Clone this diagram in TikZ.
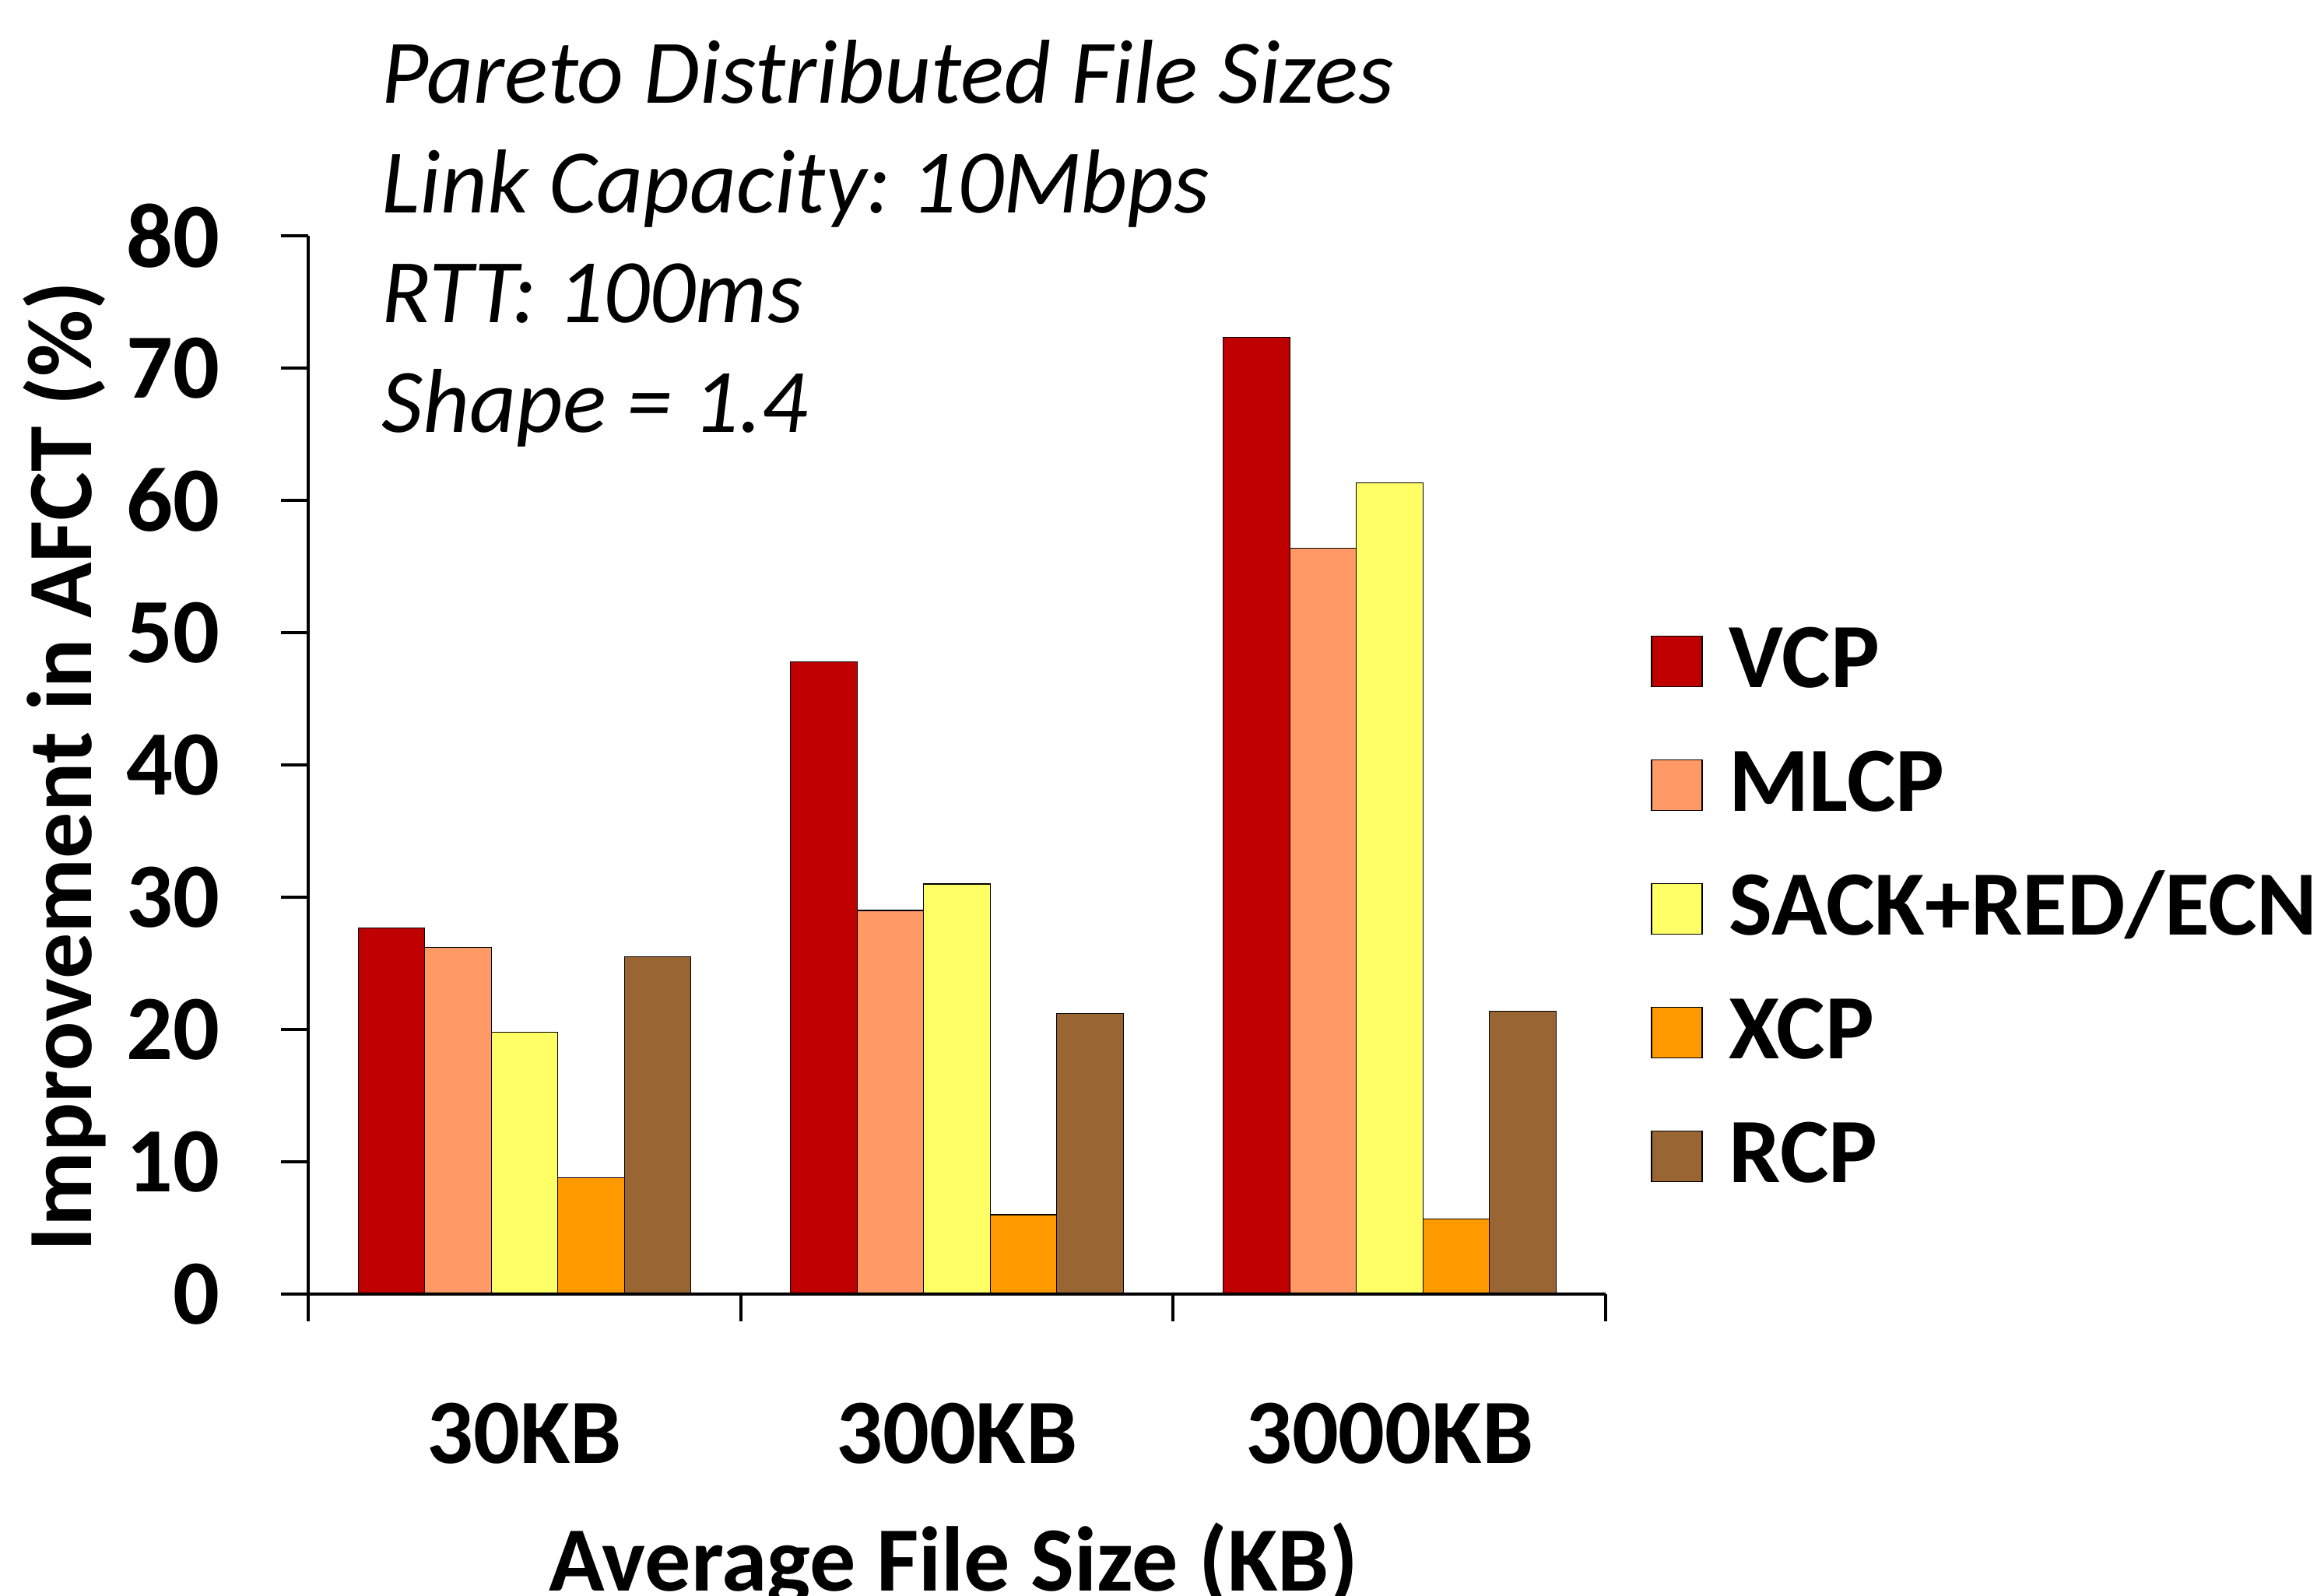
\documentclass[tikz,border=0pt]{standalone}
\usepackage{fontspec}
\setmainfont{Carlito}
\frenchspacing

\definecolor{vcpcolor}{HTML}{C00000}
\definecolor{mlcpcolor}{HTML}{FF9966}
\definecolor{sackcolor}{HTML}{FFFF66}
\definecolor{xcpcolor}{HTML}{FF9900}
\definecolor{rcpcolor}{HTML}{996633}

\begin{document}
\begin{tikzpicture}[
  bar/.style={draw=black, line width=0.3pt},
  axisline/.style={line width=1.1pt},
  boldlabel/.style={font=\fontsize{33.6}{40}\selectfont\bfseries, inner sep=0pt},
  infotext/.style={font=\fontsize{33.2}{40}\selectfont\itshape, inner sep=0pt, anchor=base west},
  legendbox/.style={draw=black, line width=0.5pt, minimum size=0.65cm, inner sep=0pt},
  legendtext/.style={boldlabel, anchor=base west}
]
% Page size of the reference (1 px = 0.01 cm)
\clip (0,0) rectangle (29.77,20.50);
\fill[white] (0,0) rectangle (29.77,20.50);

% Info text in the upper left corner
\node[infotext] (infopareto) at (4.90, 19.17) {Pareto Distributed File Sizes};
\node[infotext] (infolink) at (4.90, 17.76) {Link Capacity: 10Mbps};
\node[infotext] (infortt) at (4.90, 16.35) {RTT: 100ms};
\node[infotext] (infoshape) at (4.90, 14.94) {Shape = 1.4};

% Bars (x in cm from the y axis, y in percent)
\begin{scope}[shift={(3.96,3.87)}, y=0.17cm]
\draw[bar, fill=vcpcolor] (0.641, 0) rectangle +(0.855, 27.7);
\draw[bar, fill=mlcpcolor] (1.496, 0) rectangle +(0.855, 26.2);
\draw[bar, fill=sackcolor] (2.351, 0) rectangle +(0.855, 19.8);
\draw[bar, fill=xcpcolor] (3.206, 0) rectangle +(0.855, 8.8);
\draw[bar, fill=rcpcolor] (4.061, 0) rectangle +(0.855, 25.5);
\draw[bar, fill=vcpcolor] (6.198, 0) rectangle +(0.855, 47.8);
\draw[bar, fill=mlcpcolor] (7.053, 0) rectangle +(0.855, 29.0);
\draw[bar, fill=sackcolor] (7.908, 0) rectangle +(0.855, 31.0);
\draw[bar, fill=xcpcolor] (8.763, 0) rectangle +(0.855, 6.0);
\draw[bar, fill=rcpcolor] (9.618, 0) rectangle +(0.855, 21.2);
\draw[bar, fill=vcpcolor] (11.755, 0) rectangle +(0.855, 72.3);
\draw[bar, fill=mlcpcolor] (12.610, 0) rectangle +(0.855, 56.4);
\draw[bar, fill=sackcolor] (13.465, 0) rectangle +(0.855, 61.3);
\draw[bar, fill=xcpcolor] (14.320, 0) rectangle +(0.855, 5.7);
\draw[bar, fill=rcpcolor] (15.175, 0) rectangle +(0.855, 21.4);
\end{scope}

% Axes and ticks
\draw[axisline] (3.96, 3.87) -- (3.96, 17.47);
\draw[axisline] (3.61, 3.87) -- (20.63, 3.87);
\draw[axisline] (3.61, 5.57) -- (3.96, 5.57);
\draw[axisline] (3.61, 7.27) -- (3.96, 7.27);
\draw[axisline] (3.61, 8.97) -- (3.96, 8.97);
\draw[axisline] (3.61, 10.67) -- (3.96, 10.67);
\draw[axisline] (3.61, 12.37) -- (3.96, 12.37);
\draw[axisline] (3.61, 14.07) -- (3.96, 14.07);
\draw[axisline] (3.61, 15.77) -- (3.96, 15.77);
\draw[axisline] (3.61, 17.47) -- (3.96, 17.47);
\draw[axisline] (3.96, 3.87) -- (3.96, 3.52);
\draw[axisline] (9.517, 3.87) -- (9.517, 3.52);
\draw[axisline] (15.073, 3.87) -- (15.073, 3.52);
\draw[axisline] (20.63, 3.87) -- (20.63, 3.52);

% Tick labels
\node[boldlabel, anchor=east] (ytick0) at (2.83, 3.87) {0};
\node[boldlabel, anchor=east] (ytick10) at (2.83, 5.57) {10};
\node[boldlabel, anchor=east] (ytick20) at (2.83, 7.27) {20};
\node[boldlabel, anchor=east] (ytick30) at (2.83, 8.97) {30};
\node[boldlabel, anchor=east] (ytick40) at (2.83, 10.67) {40};
\node[boldlabel, anchor=east] (ytick50) at (2.83, 12.37) {50};
\node[boldlabel, anchor=east] (ytick60) at (2.83, 14.07) {60};
\node[boldlabel, anchor=east] (ytick70) at (2.83, 15.77) {70};
\node[boldlabel, anchor=east] (ytick80) at (2.83, 17.47) {80};
\node[boldlabel, anchor=base] (xtick30) at (6.738, 1.69) {30KB};
\node[boldlabel, anchor=base] (xtick300) at (12.295, 1.69) {300KB};
\node[boldlabel, anchor=base] (xtick3000) at (17.852, 1.69) {3000KB};

% Axis titles
\node[boldlabel, rotate=90, anchor=base] (ytitle) at (1.17, 10.65) {Improvement in AFCT (\%)};
\node[boldlabel, anchor=base] (xtitle) at (12.25, 0.06) {Average File Size (KB)};

% Legend
\node[legendbox, fill=vcpcolor] (legvcp) at (21.545, 12.00) {};
\node[legendtext] (legvcptext) at (22.21, 11.66) {VCP};
\node[legendbox, fill=mlcpcolor] (legmlcp) at (21.545, 10.41) {};
\node[legendtext] (legmlcptext) at (22.21, 10.07) {MLCP};
\node[legendbox, fill=sackcolor] (legsack) at (21.545, 8.82) {};
\node[legendtext] (legsacktext) at (22.21, 8.48) {SACK+RED/ECN};
\node[legendbox, fill=xcpcolor] (legxcp) at (21.545, 7.23) {};
\node[legendtext] (legxcptext) at (22.21, 6.89) {XCP};
\node[legendbox, fill=rcpcolor] (legrcp) at (21.545, 5.64) {};
\node[legendtext] (legrcptext) at (22.21, 5.30) {RCP};
\end{tikzpicture}
\end{document}
